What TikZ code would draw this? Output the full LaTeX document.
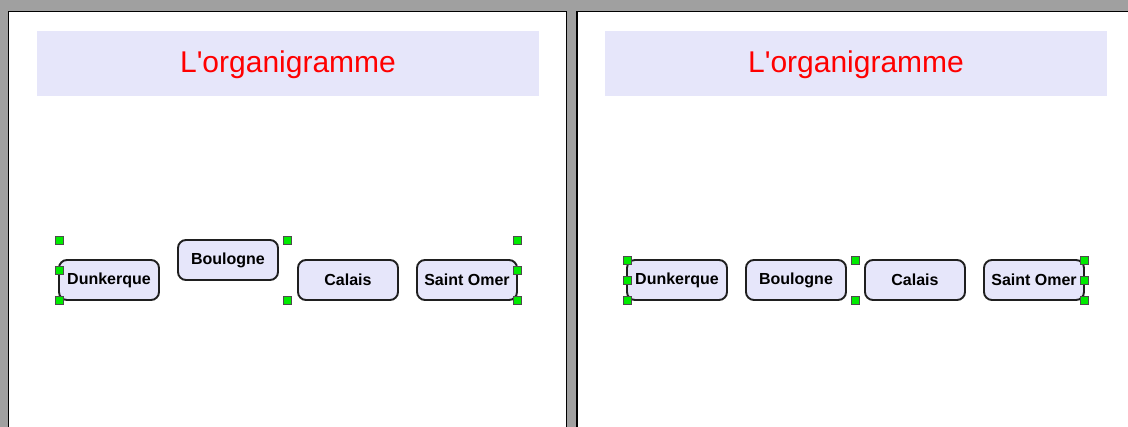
\documentclass[tikz,border=0pt]{standalone}
\usepackage{fontspec}
\setmainfont{Liberation Sans}
\usepackage{xcolor}
\usepackage{tikz}
\usetikzlibrary{positioning}

\definecolor{fond}{RGB}{160,160,160}
\definecolor{lavande}{RGB}{230,230,250}
\definecolor{vert}{RGB}{0,235,0}

\tikzset{
	ville/.style={draw=black!88, line width=1.9pt, fill=lavande, rounded corners=8pt,
		minimum width=100pt, minimum height=40pt, inner sep=0pt,
		font=\fontsize{16}{18}\selectfont\bfseries},
	bandeau/.style={fill=lavande, minimum width=502pt, minimum height=65pt, inner sep=0pt,
		text=red, font=\fontsize{30}{34}\selectfont},
	poignee/.style={draw=black!70, line width=0.6pt, fill=vert, minimum size=8pt, inner sep=0pt},
}

\begin{document}
\begin{tikzpicture}[x=1pt,y=-1pt]
		\useasboundingbox (0,0) rectangle (1128,427);
		\clip (0,0) rectangle (1128,427);
		\fill[fond] (0,0) rectangle (1128,427);
		% les deux fenetres
		\draw[line width=1.6pt, fill=white] (8.5,11.5) rectangle (566.5,440);
		\draw[line width=1.6pt, fill=white] (577,11.5) rectangle (1140,440);
		% fenetre de gauche
		\fill[lavande] (37,31) rectangle (539,96);
		\node[bandeau, fill=none] (titreG) at (288,65) {L\textquotesingle organigramme};
		\node[ville] (dunkG) at (109,280) {Dunkerque};
		\node[ville] (boulG) at (228,260) {Boulogne};
		\node[ville] (calaG) at (348,280) {Calais};
		\node[ville] (omerG) at (467,280) {Saint Omer};
		\foreach \x/\y [count=\i] in {59/240,287/240,517/240,59/270,517/270,59/300,287/300,517/300}
			\node[poignee] (pg\i) at (\x,\y) {};
		% fenetre de droite
		\fill[lavande] (605,31) rectangle (1107,96);
		\node[bandeau, fill=none] (titreD) at (856,65) {L\textquotesingle organigramme};
		\node[ville] (dunkD) at (677,280) {Dunkerque};
		\node[ville] (boulD) at (796,280) {Boulogne};
		\node[ville] (calaD) at (915,280) {Calais};
		\node[ville] (omerD) at (1034,280) {Saint Omer};
		\foreach \x/\y [count=\i] in {627/260,855/260,1084/260,627/280,1084/280,627/300,855/300,1084/300}
			\node[poignee] (pd\i) at (\x,\y) {};
	\end{tikzpicture}
\end{document}
